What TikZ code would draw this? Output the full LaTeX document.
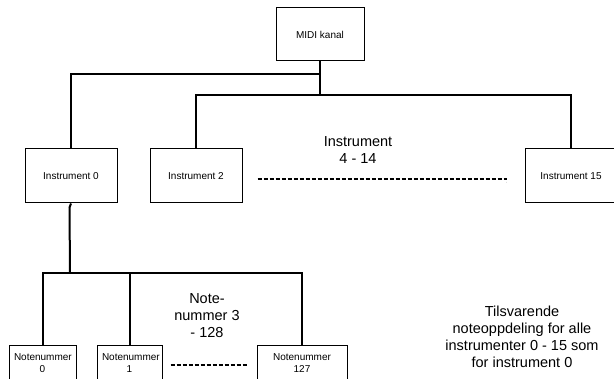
\documentclass[tikz,border=0pt]{standalone}
\usepackage{fontspec}
\setmainfont{Liberation Sans}
\usetikzlibrary{calc}

\begin{document}
\begin{tikzpicture}[x=1pt,y=-1pt,font=\fontsize{10}{12}\selectfont,
  box/.style={draw,line width=1pt,inner sep=0pt},
  notebox/.style={draw,line width=1pt,anchor=north,inner xsep=5pt,inner ysep=7pt,
    align=center,text height=8pt,text depth=40pt},
  conn/.style={line width=2pt},
  gapline/.style={line width=1.5pt,dash pattern=on 4pt off 2pt},
  biglabel/.style={align=center,font=\fontsize{14.5}{17}\selectfont}]
\useasboundingbox (0,0) rectangle (614,379);
\clip (0,0) rectangle (614,379);
\node[box,minimum width=88pt,minimum height=53pt] (midi) at (320,34.5) {MIDI kanal};
\node[box,minimum width=92pt,minimum height=54pt] (instr0) at (71,176) {Instrument 0};
\node[box,minimum width=92pt,minimum height=54pt] (instr2) at (196,176) {Instrument 2};
\node[box,minimum width=92pt,minimum height=54pt] (instr15) at (571,176) {Instrument 15};
\node[biglabel] (instrmid) at (358,150) {Instrument\\4 - 14};
\node[notebox,text width=57pt] (note0) at (42.5,345) {Notenummer\\0};
\node[notebox,text width=55pt] (note1) at (129.5,345) {Notenummer\\1};
\node[notebox,text width=80pt] (note127) at (302,345) {Notenummer\\127};
\node[biglabel] (notemid) at (207,316) {Note-\\nummer 3\\- 128};
\node[biglabel] (remark) at (522,337) {Tilsvarende\\noteoppdeling for alle\\instrumenter 0 - 15 som\\for instrument 0};
\coordinate (splitA) at (320,74);
\coordinate (splitB) at (320,95);
\coordinate (noteSplit) at (70,273);
% upper tree
\draw[conn] (midi.south) -- (splitB);
\draw[conn] (splitA) -| (instr0.north);
\draw[conn] (instr2.north) |- (splitB) -| (instr15.north);
\draw[gapline] ($(instr2.east)+(15,3)$) -- ($(instr15.west)+(-18,3)$) -- ++(0,3);
% lower tree
\draw[conn] (instr0.south) -- ++(-1.5,4) -- (noteSplit);
\draw[conn] (note0.north) |- (noteSplit) -| (note127.north);
\draw[conn] (note1.north) -- (note1.north |- noteSplit);
\draw[gapline] ($(note1.north east)+(8,20)$) -- ($(note127.north west)+(-10,20)$);
\end{tikzpicture}
\end{document}
